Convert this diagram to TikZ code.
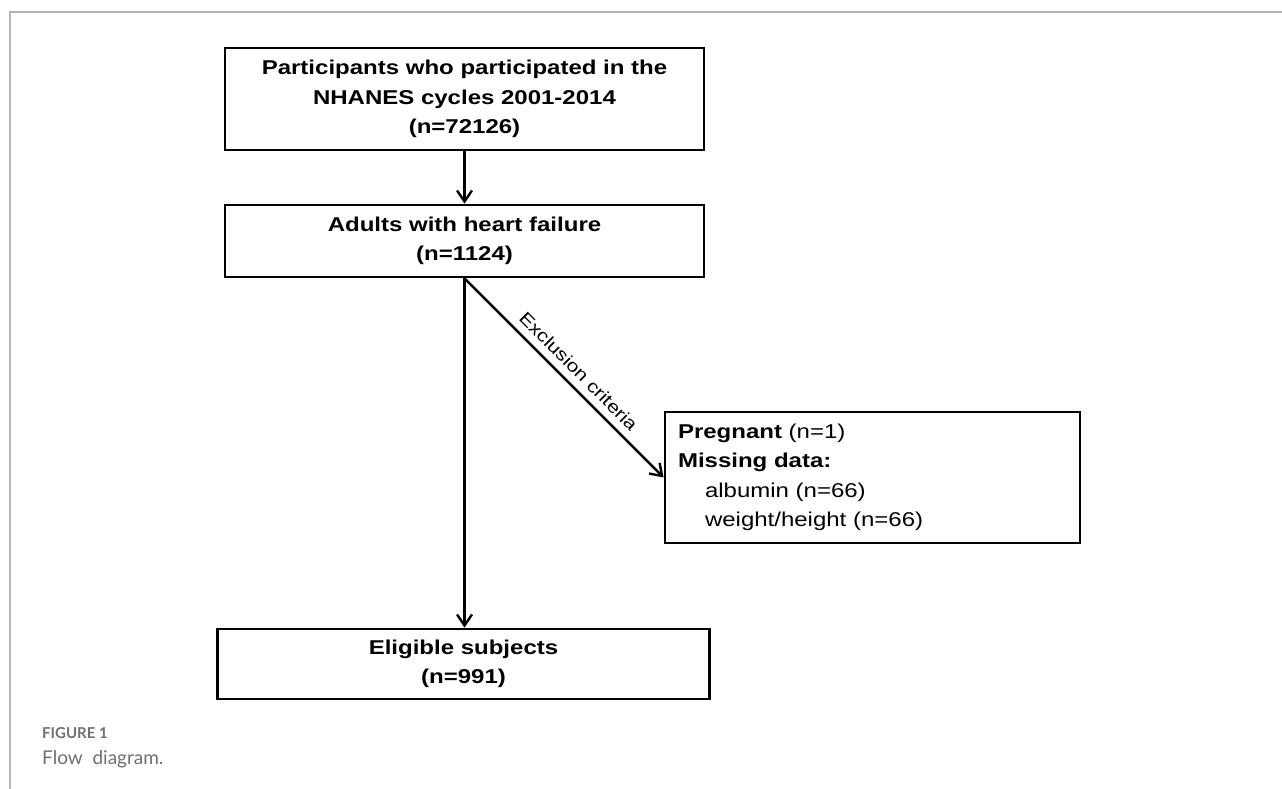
\documentclass[tikz,border=0pt]{standalone}
\usepackage{fontspec}
\setmainfont{Liberation Sans}[FakeStretch=1.2]
\newfontfamily\captionfont{Lato}
\usetikzlibrary{arrows.meta, positioning}
\usepackage{xcolor}
\definecolor{framegray}{RGB}{180, 180, 180}
\definecolor{captiongray}{RGB}{112, 112, 112}

\begin{document}
\begin{tikzpicture}[
            x=1pt, y=1pt,
            box/.style={
                rectangle,
                draw=black,
                line width=2.8pt,
                text width=#1,
                align=center,
                inner sep=0pt,
                font=\bfseries\fontsize{20}{29.5}\selectfont
            },
            arr/.style={-{Straight Barb[length=11pt, width=15pt]}, line width=2.4pt},
            captext/.style={anchor=base west, inner sep=0pt, text=captiongray}
        ]

            \useasboundingbox (0,0) rectangle (1282,789);

            % Frame
            \draw[framegray, line width=1.5pt] (1282,777) -- (10,777) -- (10,0);

            % Nodes
            \node[box=479pt, minimum height=102pt] (participants) at (464.5,690) {
                Participants who participated in the\\
                NHANES cycles 2001-2014\\
                (n=72126)
            };

            \node[box=479pt, minimum height=72pt] (adults) at (464.5,548) {
                Adults with heart failure\\
                (n=1124)
            };

            \node[box=492pt, minimum height=70pt] (eligible) at (463.5,125) {
                Eligible subjects\\
                (n=991)
            };

            \node[box=389pt, minimum height=131pt, inner xsep=13pt, align=left] (excluded) at (872.5,311.5) {
                Pregnant {\mdseries(n=1)}\\
                Missing data:\\
                \hspace*{27pt}{\mdseries albumin (n=66)}\\
                \hspace*{27pt}{\mdseries weight/height (n=66)}
            };

            % Caption
            \node[captext, font=\captionfont\bfseries\fontsize{15}{17}\selectfont] (figlabel) at (42,50) {FIGURE 1};
            \node[captext, font=\captionfont\fontsize{19}{21}\selectfont] (figcaption) at (42,24) {Flow~~diagram.};

            % Arrows
            \draw[arr] (participants) -- (adults);
            \draw[arr] (adults.south) -- (adults.south |- eligible.north);
            \draw[arr] (adults.south) -- node[sloped, above=4pt, pos=0.52, font=\fontsize{17.5}{20}\selectfont] {Exclusion criteria} (excluded.west);
        \end{tikzpicture}
\end{document}
